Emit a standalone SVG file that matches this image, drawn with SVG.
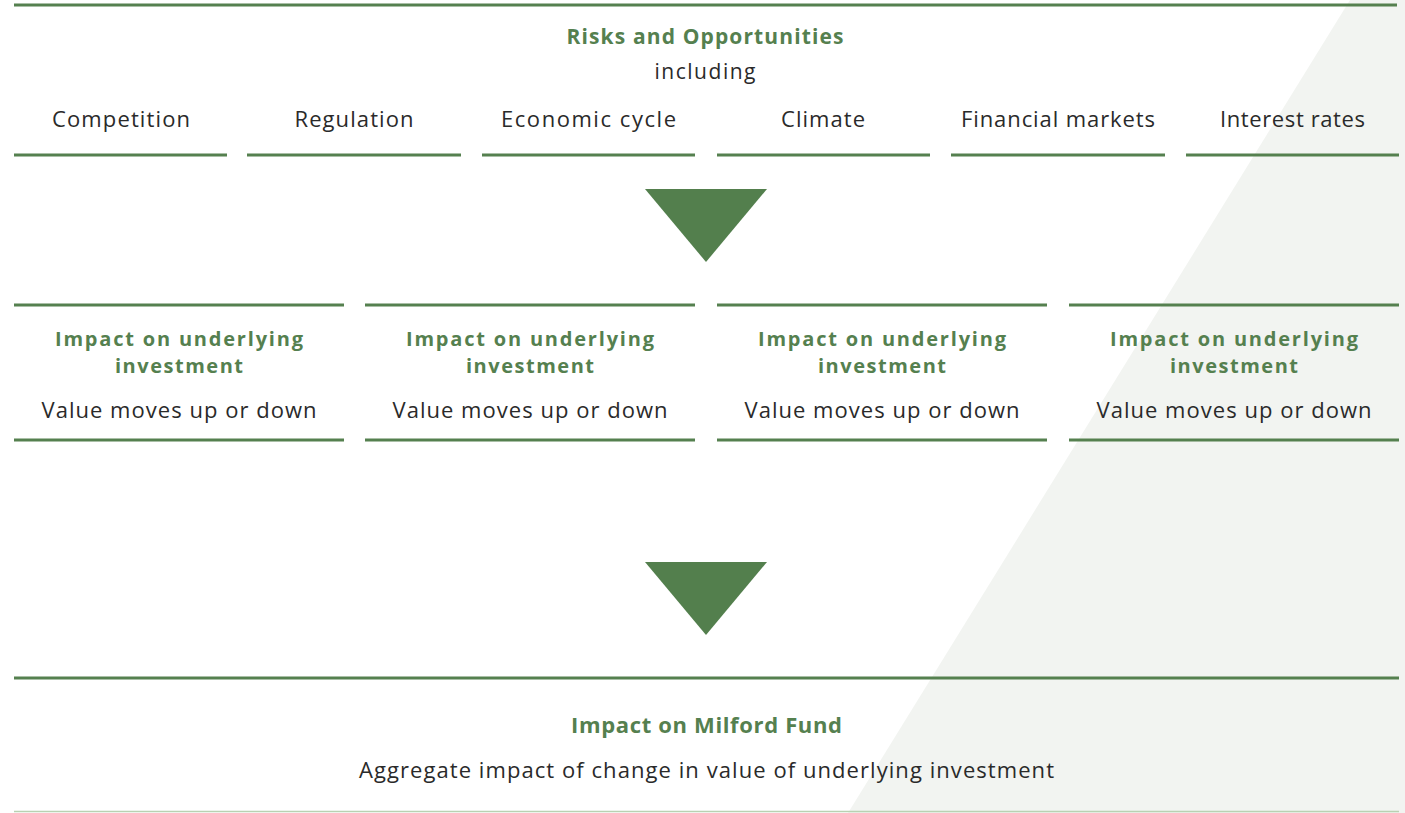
<svg xmlns="http://www.w3.org/2000/svg" width="1405" height="813" viewBox="0 0 1405 813">
<style>
.rule{stroke:#55804f;stroke-width:3;fill:none}
.arrow{fill:#537f4d}
.h{font-family:"Open Sans","Liberation Sans",sans-serif;font-weight:700;fill:#55804f;text-anchor:middle}
.t{font-family:"Open Sans","Liberation Sans",sans-serif;font-weight:400;fill:#2a2a2a;text-anchor:middle}
.ih{font-size:20px}
</style>
<rect x="0" y="0" width="1405" height="813" fill="#ffffff"/>
<polygon points="1350,0 1405,0 1405,813 848,813" fill="#f2f4f1"/>

<g id="risks">
<line class="rule" x1="14" y1="5" x2="1397" y2="5"/>
<text class="h" x="705" y="44" font-size="21" textLength="277">Risks and Opportunities</text>
<text class="t" x="705" y="79" font-size="21" textLength="101">including</text>
</g>

<g id="cat-competition">
<text class="t" x="121" y="127" font-size="22" textLength="138">Competition</text>
<line class="rule" x1="14" y1="155" x2="227" y2="155"/>
</g>
<g id="cat-regulation">
<text class="t" x="354" y="127" font-size="22" textLength="119">Regulation</text>
<line class="rule" x1="247" y1="155" x2="461" y2="155"/>
</g>
<g id="cat-economic">
<text class="t" x="588.5" y="127" font-size="22" textLength="175">Economic cycle</text>
<line class="rule" x1="482" y1="155" x2="695" y2="155"/>
</g>
<g id="cat-climate">
<text class="t" x="823" y="127" font-size="22" textLength="84">Climate</text>
<line class="rule" x1="717" y1="155" x2="930" y2="155"/>
</g>
<g id="cat-financial">
<text class="t" x="1058" y="127" font-size="22" textLength="194">Financial markets</text>
<line class="rule" x1="951" y1="155" x2="1165" y2="155"/>
</g>
<g id="cat-interest">
<text class="t" x="1292.5" y="127" font-size="22" textLength="145">Interest rates</text>
<line class="rule" x1="1186" y1="155" x2="1399" y2="155"/>
</g>

<g id="connectors">
<polygon class="arrow" points="645,189 767,189 706,262"/>
<polygon class="arrow" points="645,562 767,562 706,635"/>
</g>

<g id="impact-1">
<line class="rule" x1="14" y1="305" x2="344" y2="305"/>
<text class="h ih" x="179" y="345.5" textLength="248">Impact on underlying</text>
<text class="h ih" x="179" y="373" textLength="128">investment</text>
<text class="t" x="179" y="418" font-size="22" textLength="275">Value moves up or down</text>
<line class="rule" x1="14" y1="440" x2="344" y2="440"/>
</g>
<g id="impact-2">
<line class="rule" x1="365" y1="305" x2="695" y2="305"/>
<text class="h ih" x="530" y="345.5" textLength="248">Impact on underlying</text>
<text class="h ih" x="530" y="373" textLength="128">investment</text>
<text class="t" x="530" y="418" font-size="22" textLength="275">Value moves up or down</text>
<line class="rule" x1="365" y1="440" x2="695" y2="440"/>
</g>
<g id="impact-3">
<line class="rule" x1="717" y1="305" x2="1047" y2="305"/>
<text class="h ih" x="882" y="345.5" textLength="248">Impact on underlying</text>
<text class="h ih" x="882" y="373" textLength="128">investment</text>
<text class="t" x="882" y="418" font-size="22" textLength="275">Value moves up or down</text>
<line class="rule" x1="717" y1="440" x2="1047" y2="440"/>
</g>
<g id="impact-4">
<line class="rule" x1="1069" y1="305" x2="1399" y2="305"/>
<text class="h ih" x="1234" y="345.5" textLength="248">Impact on underlying</text>
<text class="h ih" x="1234" y="373" textLength="128">investment</text>
<text class="t" x="1234" y="418" font-size="22" textLength="275">Value moves up or down</text>
<line class="rule" x1="1069" y1="440" x2="1399" y2="440"/>
</g>

<g id="milford">
<line class="rule" x1="14" y1="678" x2="1399" y2="678"/>
<text class="h" x="706.5" y="733" font-size="22" textLength="271">Impact on Milford Fund</text>
<text class="t" x="706.5" y="778" font-size="22" textLength="695">Aggregate impact of change in value of underlying investment</text>
<line x1="14" y1="811.5" x2="1399" y2="811.5" stroke="#b9d1b2" stroke-width="1.5"/>
</g>
</svg>
